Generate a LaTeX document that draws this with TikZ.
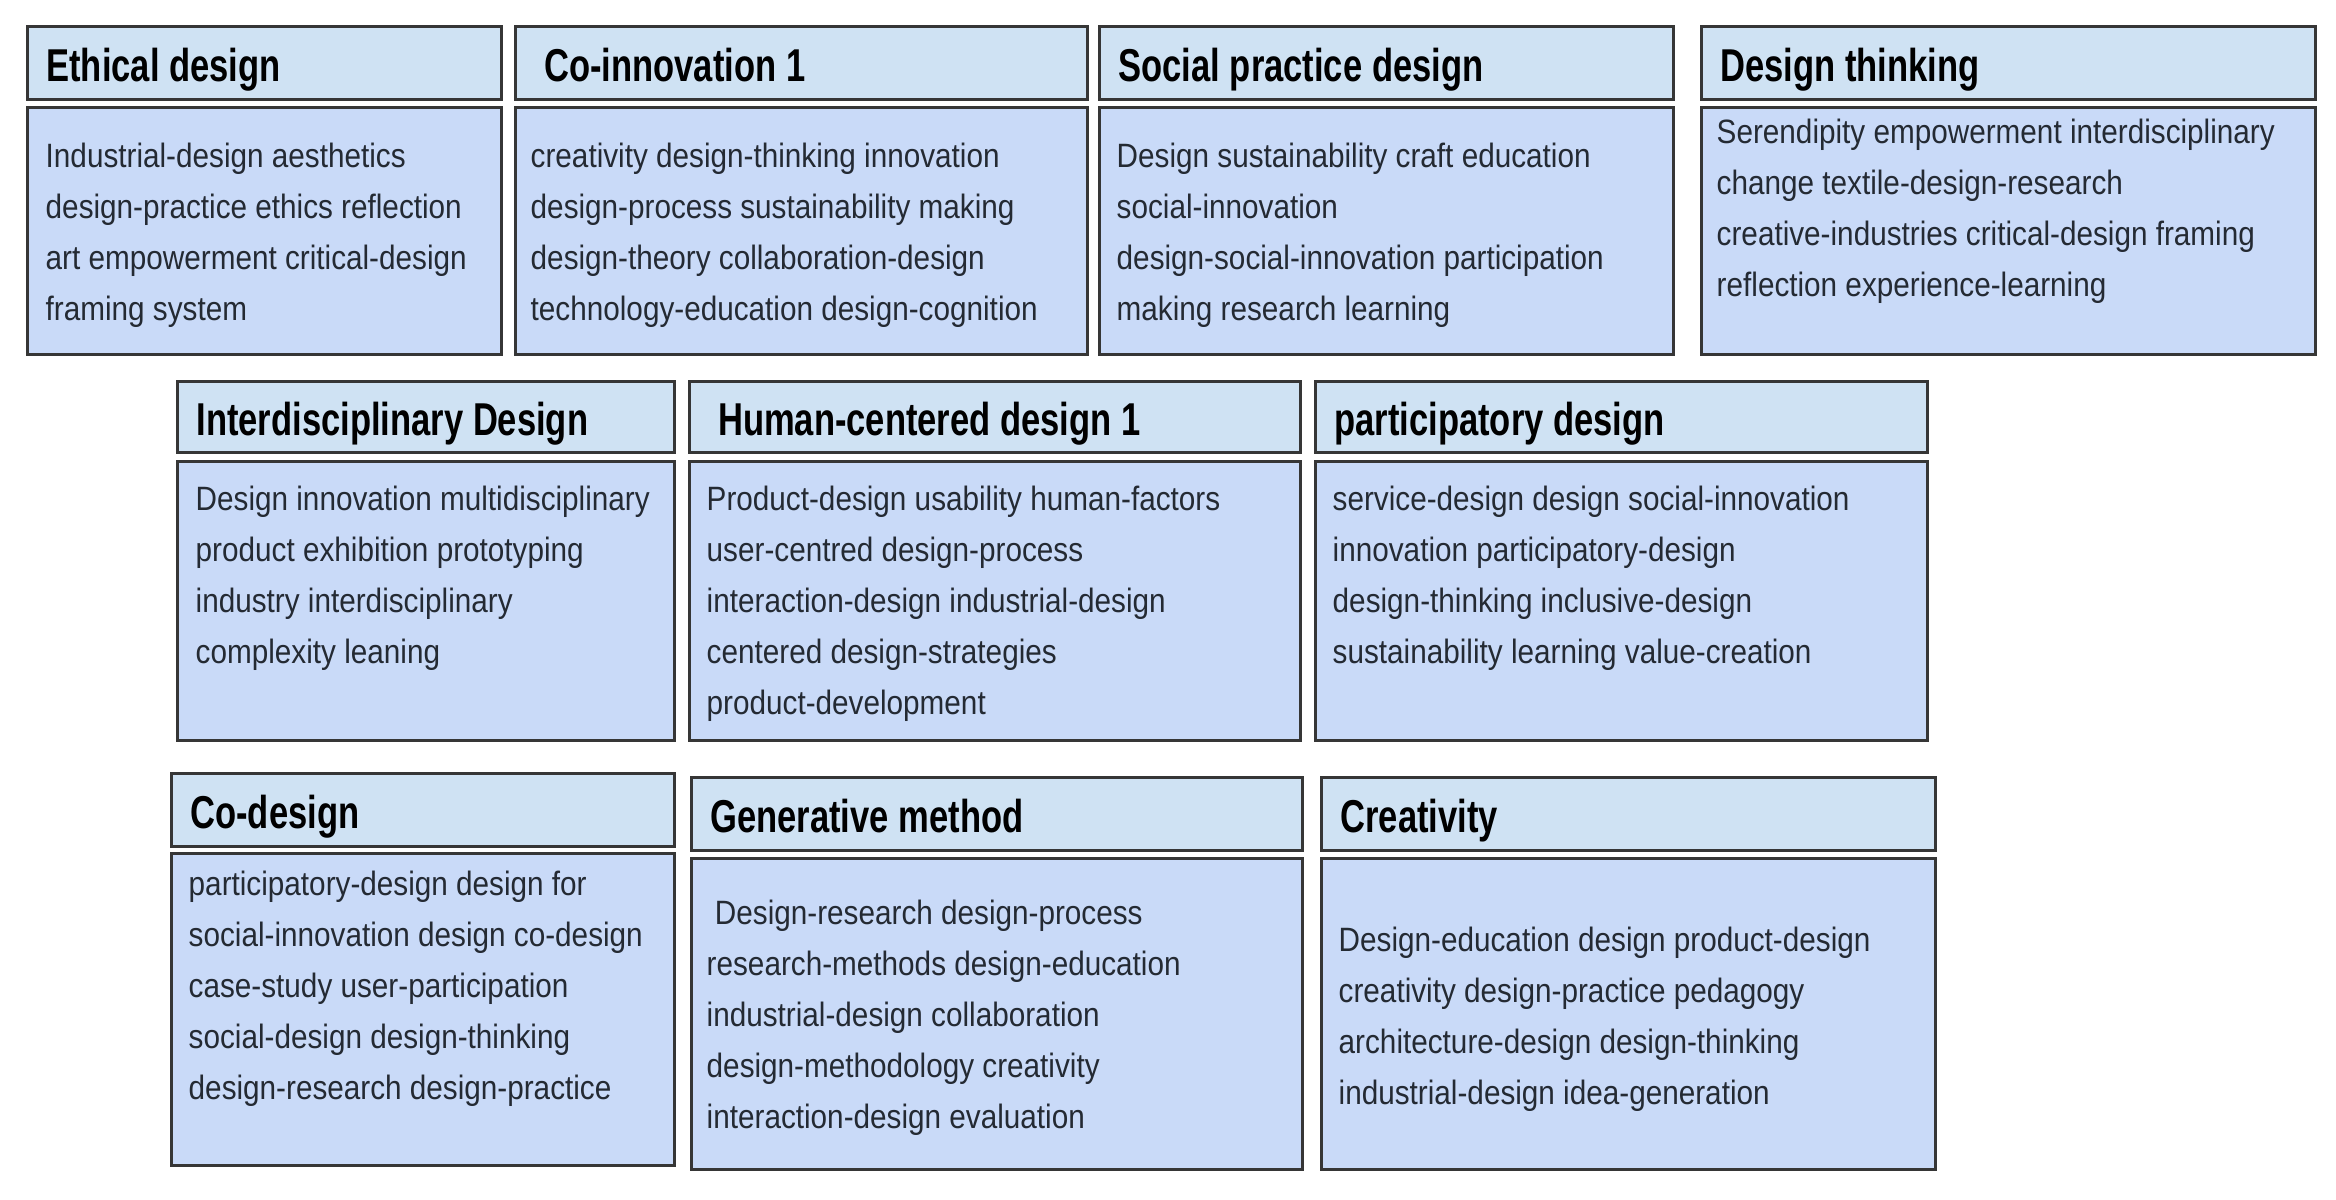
\documentclass[tikz,border=0pt]{standalone}
\usepackage{fontspec}
\setmainfont{Liberation Sans}
\newfontfamily\headfont{Liberation Sans}[FakeStretch=0.75]
\newfontfamily\wordfont{Liberation Sans}[FakeStretch=0.88]
\usepackage{tikz}
\usetikzlibrary{positioning}
\definecolor{headfill}{HTML}{CFE2F3}
\definecolor{bodyfill}{HTML}{C9DAF8}
\definecolor{edge}{HTML}{363636}
\definecolor{ink}{HTML}{242A33}
\tikzset{
  head/.style={draw=edge, line width=0.8pt, fill=headfill, anchor=north west, align=left,
    inner xsep=0.19cm, inner ysep=0pt, minimum height=0.73cm, text height=0.43cm, text depth=0.06cm,
    font=\headfont\fontsize{13.1}{15}\selectfont\bfseries,
    execute at begin node={\spaceskip=0.21em\relax}},
  body/.style={draw=edge, line width=0.8pt, fill=bodyfill, anchor=north west, inner sep=0pt},
  words/.style={align=left, inner sep=0pt, text=ink, font=\wordfont\fontsize{9.6}{14.5}\selectfont},
}

\begin{document}
\begin{tikzpicture}[x=0.01cm, y=-0.01cm]
\useasboundingbox (0,0) rectangle (2336,1199);
	% Row 1
\node [head, text width=4.36cm] (h1) at (26,25) {Ethical design};
\node [body, minimum width=4.74cm, minimum height=2.47cm] (b1) at (26,106) {};
\node [words, below right=0.36cm and 0.19cm of b1.north west] (w1) {Industrial-design aesthetics\\design-practice ethics reflection\\art empowerment critical-design\\framing system};

\node [head, text width=5.34cm] (h2) at (514,25) {\hspace{0.21em}Co-innovation 1};
\node [body, minimum width=5.72cm, minimum height=2.47cm] (b2) at (514,106) {};
\node [words, below right=0.36cm and 0.16cm of b2.north west] (w2) {creativity design-thinking innovation\\design-process sustainability making\\design-theory collaboration-design\\technology-education design-cognition};

\node [head, text width=5.36cm] (h3) at (1098,25) {Social practice design};
\node [body, minimum width=5.74cm, minimum height=2.47cm] (b3) at (1098,106) {};
\node [words, below right=0.36cm and 0.18cm of b3.north west] (w3) {Design sustainability craft education\\social-innovation\\design-social-innovation participation\\making research learning};

\node [head, text width=5.76cm] (h4) at (1700,25) {Design thinking};
\node [body, minimum width=6.14cm, minimum height=2.47cm] (b4) at (1700,106) {};
\node [words, below right=0.12cm and 0.16cm of b4.north west] (w4) {Serendipity empowerment interdisciplinary\\change textile-design-research\\creative-industries critical-design framing\\reflection experience-learning};

	% Row 2
\node [head, text width=4.59cm, minimum height=0.71cm] (h5) at (176,380) {Interdisciplinary Design};
\node [body, minimum width=4.97cm, minimum height=2.79cm] (b5) at (176,460) {};
\node [words, below right=0.25cm and 0.19cm of b5.north west] (w5) {Design innovation multidisciplinary\\product exhibition prototyping\\industry interdisciplinary\\complexity leaning};

\node [head, text width=5.73cm, minimum height=0.71cm] (h6) at (688,380) {\hspace{0.21em}Human-centered design 1};
\node [body, minimum width=6.11cm, minimum height=2.79cm] (b6) at (688,460) {};
\node [words, below right=0.25cm and 0.18cm of b6.north west] (w6) {Product-design usability human-factors\\user-centred design-process\\interaction-design industrial-design\\centered design-strategies\\product-development};

\node [head, text width=5.74cm, minimum height=0.71cm] (h7) at (1314,380) {participatory design};
\node [body, minimum width=6.12cm, minimum height=2.79cm] (b7) at (1314,460) {};
\node [words, below right=0.25cm and 0.18cm of b7.north west] (w7) {service-design design social-innovation\\innovation participatory-design\\design-thinking inclusive-design\\sustainability learning value-creation};

	% Row 3
\node [head, text width=4.65cm] (h8) at (170,772) {Co-design};
\node [body, minimum width=5.03cm, minimum height=3.12cm] (b8) at (170,852) {};
\node [words, below right=0.18cm and 0.18cm of b8.north west] (w8) {participatory-design design for\\social-innovation design co-design\\case-study user-participation\\social-design design-thinking\\design-research design-practice};

\node [head, text width=5.73cm] (h9) at (690,776) {Generative method};
\node [body, minimum width=6.11cm, minimum height=3.11cm] (b9) at (690,857) {};
\node [words, below right=0.42cm and 0.16cm of b9.north west] (w9) {\ Design-research design-process\\research-methods design-education\\industrial-design collaboration\\design-methodology creativity\\interaction-design evaluation};

\node [head, text width=5.76cm] (h10) at (1320,776) {Creativity};
\node [body, minimum width=6.14cm, minimum height=3.11cm] (b10) at (1320,857) {};
\node [words, below right=0.69cm and 0.18cm of b10.north west] (w10) {Design-education design product-design\\creativity design-practice pedagogy\\architecture-design design-thinking\\industrial-design idea-generation};
\end{tikzpicture}
\end{document}
